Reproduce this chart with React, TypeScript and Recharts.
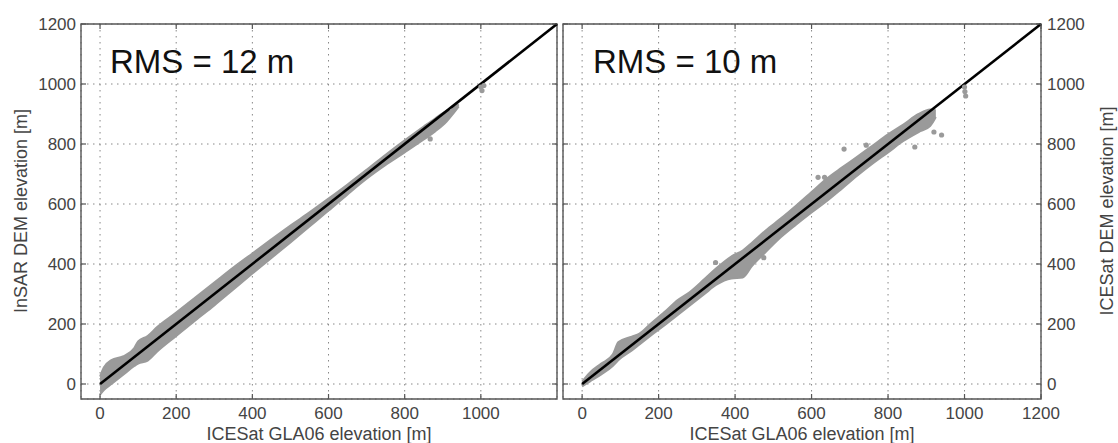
import React from 'react'
import { ComposedChart, Area, Scatter, XAxis, YAxis, CartesianGrid, ReferenceLine, ReferenceArea } from 'recharts'

const leftBandX = [0, 10, 30, 60, 90, 100, 125, 150, 200, 250, 300, 350, 400, 450, 500, 550, 600, 650, 700, 750, 800, 850, 880, 910, 930, 942]
const leftBandLow = [-35, -20, 0, 30, 60, 68, 78, 108, 160, 212, 262, 315, 368, 420, 472, 525, 578, 632, 684, 730, 772, 815, 842, 875, 905, 925]
const leftBandHigh = [25, 55, 80, 92, 120, 142, 160, 190, 238, 288, 338, 388, 435, 482, 528, 572, 618, 665, 714, 764, 812, 858, 885, 910, 922, 932]

const rightBandX = [0, 20, 50, 80, 95, 130, 150, 180, 220, 250, 280, 320, 350, 390, 420, 445, 480, 520, 560, 600, 640, 680, 720, 760, 800, 840, 880, 910, 925]
const rightBandLow = [-8, 8, 32, 60, 80, 112, 132, 162, 200, 230, 260, 300, 330, 352, 355, 395, 440, 490, 532, 572, 610, 652, 695, 735, 772, 810, 840, 860, 890]
const rightBandHigh = [8, 38, 68, 98, 140, 158, 168, 202, 245, 280, 305, 350, 385, 425, 445, 472, 512, 552, 595, 640, 685, 722, 758, 795, 832, 865, 900, 915, 912]

// isolated gray points
const leftOutliers = [
  { x: 1000, y: 990 },
  { x: 1003, y: 978 },
  { x: 1008, y: 995 },
  { x: 867, y: 817 },
  { x: 925, y: 910 },
]
const rightOutliers = [
  { x: 1000, y: 990 },
  { x: 1001, y: 975 },
  { x: 1003, y: 960 },
  { x: 920, y: 840 },
  { x: 940, y: 830 },
  { x: 870, y: 790 },
  { x: 685, y: 783 },
  { x: 743, y: 796 },
  { x: 617, y: 689 },
  { x: 634, y: 689 },
  { x: 349, y: 405 },
  { x: 475, y: 421 },
]

const leftXTicks = [0, 200, 400, 600, 800, 1000]
const rightXTicks = [0, 200, 400, 600, 800, 1000, 1200]
const yTicks = [0, 200, 400, 600, 800, 1000, 1200]
const DOMAIN: [number, number] = [-50, 1200]

const FONT = '"Liberation Sans", Arial, sans-serif'
const TEXT = '#444'
const FRAME = '#555'
const CLOUD = '#9a9a9a'

const leftBand = leftBandX.map((x, i) => ({ x, band: [leftBandLow[i], leftBandHigh[i]] }))
const rightBand = rightBandX.map((x, i) => ({ x, band: [rightBandLow[i], rightBandHigh[i]] }))

// plot box inside each chart's svg
const TOP = 24
const BOTTOM = 399

function makeXTick() {
  return (props: any) => {
    const { x, y, payload } = props
    return (
      <g>
        <line x1={x} x2={x} y1={BOTTOM} y2={BOTTOM - 5} stroke={FRAME} strokeWidth={1.2} />
        <line x1={x} x2={x} y1={TOP} y2={TOP + 5} stroke={FRAME} strokeWidth={1.2} />
        <text x={x} y={y} dy="0.71em" textAnchor="middle" fontSize={17} fontFamily={FONT} fill={TEXT}>
          {payload.value}
        </text>
      </g>
    )
  }
}

function makeYTick(left: number, right: number, side: 'left' | 'right') {
  return (props: any) => {
    const { x, y, payload } = props
    return (
      <g>
        <line x1={left} x2={left + 5} y1={y} y2={y} stroke={FRAME} strokeWidth={1.2} />
        <line x1={right - 5} x2={right} y1={y} y2={y} stroke={FRAME} strokeWidth={1.2} />
        <text x={x} y={y} dy="0.355em" textAnchor={side === 'left' ? 'end' : 'start'} fontSize={17} fontFamily={FONT} fill={TEXT}>
          {payload.value}
        </text>
      </g>
    )
  }
}

const dot = (props: any) => <circle cx={props.cx} cy={props.cy} r={2.6} fill={CLOUD} />

const xTitle = {
  value: 'ICESat GLA06 elevation [m]',
  position: 'insideBottom' as const,
  offset: 3,
  style: { fontSize: 18, fontFamily: FONT, fill: TEXT },
}

export default function App() {
  return (
    <div style={{ position: 'absolute', left: 0, top: 0, width: 1118, height: 443, background: '#fff' }}>
      {/* left panel */}
      <div style={{ position: 'absolute', left: 0, top: 0 }}>
        <ComposedChart width={560} height={443} data={leftBand} margin={{ top: TOP, right: 3, bottom: 0, left: 0 }}>
          <CartesianGrid stroke="#888" strokeDasharray="1.5 4.5" />
          <XAxis dataKey="x" type="number" domain={DOMAIN} ticks={leftXTicks} height={44} axisLine={false} tickLine={false} tickSize={0} tickMargin={8} tick={makeXTick()} label={xTitle} allowDataOverflow />
          <YAxis type="number" domain={DOMAIN} ticks={yTicks} width={81} axisLine={false} tickLine={false} tickSize={0} tickMargin={5} tick={makeYTick(81, 557, 'left')} allowDataOverflow />
          <Area dataKey="band" type="monotone" fill={CLOUD} fillOpacity={1} stroke={CLOUD} strokeWidth={2} isAnimationActive={false} />
          <Scatter data={leftOutliers} dataKey="y" shape={dot} isAnimationActive={false} />
          <ReferenceLine segment={[{ x: 0, y: 0 }, { x: 1200, y: 1200 }]} stroke="#000" strokeWidth={2.6} />
          <ReferenceArea x1={-50} x2={1200} y1={-50} y2={1200} fill="none" stroke={FRAME} strokeWidth={1.4} />
        </ComposedChart>
      </div>

      {/* right panel */}
      <div style={{ position: 'absolute', left: 560, top: 0 }}>
        <ComposedChart width={558} height={443} data={rightBand} margin={{ top: TOP, right: 0, bottom: 0, left: 3 }}>
          <CartesianGrid stroke="#888" strokeDasharray="1.5 4.5" />
          <XAxis dataKey="x" type="number" domain={DOMAIN} ticks={rightXTicks} height={44} axisLine={false} tickLine={false} tickSize={0} tickMargin={8} tick={makeXTick()} label={xTitle} allowDataOverflow />
          <YAxis type="number" orientation="right" domain={DOMAIN} ticks={yTicks} width={77} axisLine={false} tickLine={false} tickSize={0} tickMargin={6} tick={makeYTick(3, 481, 'right')} allowDataOverflow />
          <Area dataKey="band" type="monotone" fill={CLOUD} fillOpacity={1} stroke={CLOUD} strokeWidth={2} isAnimationActive={false} />
          <Scatter data={rightOutliers} dataKey="y" shape={dot} isAnimationActive={false} />
          <ReferenceLine segment={[{ x: 0, y: 0 }, { x: 1200, y: 1200 }]} stroke="#000" strokeWidth={2.6} />
          <ReferenceArea x1={-50} x2={1200} y1={-50} y2={1200} fill="none" stroke={FRAME} strokeWidth={1.4} />
        </ComposedChart>
      </div>

      {/* annotations and y titles */}
      <svg width={1118} height={443} style={{ position: 'absolute', left: 0, top: 0, pointerEvents: 'none' }}>
        <text x={110} y={73} fontSize={33} fontFamily={FONT} fill="#111">RMS = 12 m</text>
        <text x={593} y={73} fontSize={33} fontFamily={FONT} fill="#111">RMS = 10 m</text>
        <text transform="translate(27,211) rotate(-90)" textAnchor="middle" fontSize={18} fontFamily={FONT} fill={TEXT}>
          InSAR DEM elevation [m]
        </text>
        <text transform="translate(1113,211) rotate(-90)" textAnchor="middle" fontSize={18} fontFamily={FONT} fill={TEXT}>
          ICESat DEM elevation [m]
        </text>
      </svg>
    </div>
  )
}
